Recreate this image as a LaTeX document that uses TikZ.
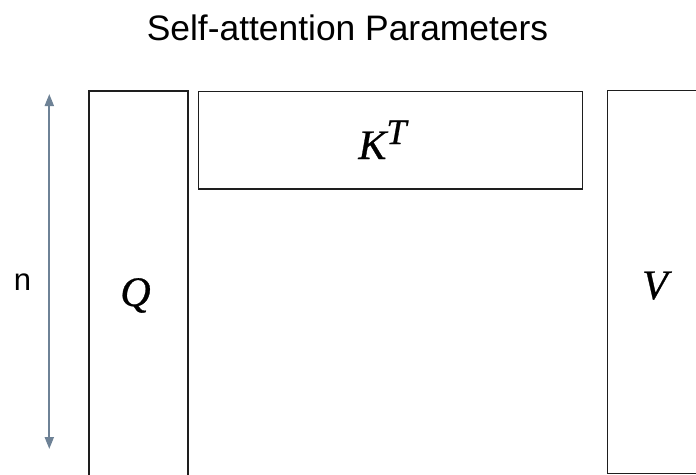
\documentclass[tikz,border=0pt]{standalone}
\usepackage{fontspec}
\setmainfont{Liberation Serif}
\newfontfamily\labelsans{Liberation Sans}
\newfontfamily\heavyit[FakeBold=0.7]{Liberation Serif Italic}
\usetikzlibrary{arrows.meta}
\definecolor{boxline}{HTML}{1E1E1E}
\definecolor{arrowcol}{HTML}{6E8296}
\tikzset{
  matbox/.style={draw=boxline, line width=1.5pt, rectangle, inner sep=0pt},
  mathlbl/.style={font=\heavyit\fontsize{42}{42}\selectfont, inner sep=0pt, anchor=base},
  dimarrow/.style={draw=arrowcol, line width=2pt, {Triangle[width=9pt,length=12pt]}-{Triangle[width=9pt,length=12pt]}},
}
\begin{document}
\begin{tikzpicture}[x=1pt,y=-1pt]
\clip (0,0) rectangle (696,474);
\fill[white] (0,0) rectangle (696,474);
% title
\node[font=\labelsans\fontsize{35.4}{36}\selectfont, anchor=base, inner sep=0pt] (title) at (347.5,40.5) {Self-attention Parameters};
% boxes
\node[matbox, minimum width=99pt, minimum height=400pt, anchor=north west] (qbox) at (88,90) {};
\node[matbox, minimum width=384pt, minimum height=97.3pt, anchor=north west] (kbox) at (197.5,90.7) {};
\node[matbox, minimum width=110pt, minimum height=383.2pt, anchor=north west] (vbox) at (606.7,89.5) {};
% labels
\node[mathlbl] (qlbl) at (135.5,306) {Q};
\node[mathlbl] (klbl) at (382.4,159) {K\raisebox{15pt}{\fontsize{36}{36}\selectfont T}};
\node[mathlbl] (vlbl) at (655,299) {V};
% dimension arrow
\coordinate (atop) at (49.3,94);
\coordinate (abot) at (49.3,449);
\draw[dimarrow] (atop) -- (abot);
\node[font=\labelsans\fontsize{31}{31}\selectfont, anchor=base, inner sep=0pt] (nlbl) at (22.5,290.7) {n};
\end{tikzpicture}
\end{document}
